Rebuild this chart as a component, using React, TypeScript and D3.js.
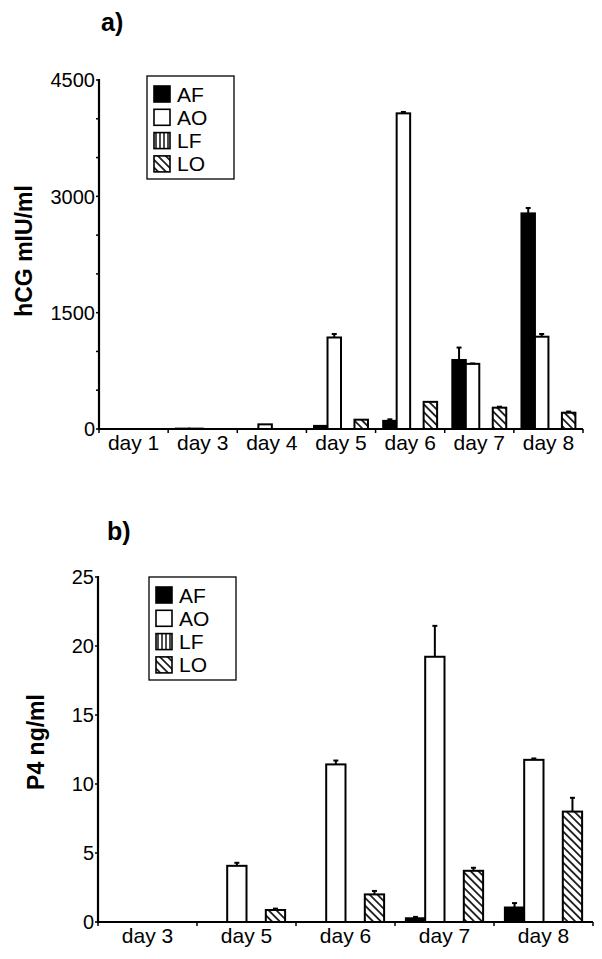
import React from 'react';
import * as d3 from 'd3';

const seriesNames = ['AF', 'AO', 'LF', 'LO'];

const hcgDays = ['day 1', 'day 3', 'day 4', 'day 5', 'day 6', 'day 7', 'day 8'];
const hcgAF = [0, 5, 0, 40, 105, 890, 2780];
const hcgAO = [0, 5, 60, 1180, 4070, 840, 1190];
const hcgLF = [0, 0, 0, 0, 0, 0, 0];
const hcgLO = [0, 0, 0, 120, 350, 275, 210];
const hcgAFErr = [0, 0, 0, 0, 20, 160, 70];
const hcgAOErr = [0, 0, 0, 45, 18, 5, 35];
const hcgLFErr = [0, 0, 0, 0, 0, 0, 0];
const hcgLOErr = [0, 0, 0, 0, 0, 12, 15];
const hcgTicks = [0, 1500, 3000, 4500];
const hcgMinor = [500, 1000, 2000, 2500, 3500, 4000];

const p4Days = ['day 3', 'day 5', 'day 6', 'day 7', 'day 8'];
const p4AF = [0, 0, 0, 0.27, 1.05];
const p4AO = [0, 4.07, 11.42, 19.22, 11.75];
const p4LF = [0, 0, 0, 0, 0];
const p4LO = [0, 0.87, 2.0, 3.71, 8.0];
const p4AFErr = [0, 0, 0, 0.1, 0.32];
const p4AOErr = [0, 0.22, 0.28, 2.24, 0.1];
const p4LFErr = [0, 0, 0, 0, 0];
const p4LOErr = [0, 0.1, 0.25, 0.22, 1.0];
const p4Ticks = [0, 5, 10, 15, 20, 25];
const p4Minor: number[] = [];

const FONT = '"Liberation Sans", Arial, Helvetica, sans-serif';

const fills: Record<string, string> = {
  AF: '#000',
  AO: '#fff',
  LF: 'url(#patLF)',
  LO: 'url(#patLO)',
};

type PanelProps = {
  days: string[];
  values: number[][];
  errors: number[][];
  ticks: number[];
  minor: number[];
  x0: number; x1: number; yTop: number; yBase: number;
  title: string; titleX: number; titleY: number;
  ylabel: string; ylabelX: number; ylabelY: number;
  legendX: number; legendY: number;
};

function Panel(p: PanelProps) {
  const maxT = p.ticks[p.ticks.length - 1];
  const y = d3.scaleLinear().domain([0, maxT]).range([p.yBase, p.yTop]);
  const x = d3.scaleBand<string>().domain(p.days).range([p.x0, p.x1]);
  const bw = x.bandwidth();
  const xs = d3.scaleBand<string>().domain(seriesNames).range([bw * 0.11, bw * 0.89]);
  const sw = xs.bandwidth();
  const boundaries = d3.range(p.days.length + 1).map((i) => p.x0 + i * bw);
  return (
    <g>
      <text x={p.titleX} y={p.titleY} fontFamily={FONT} fontWeight="bold" fontSize={25}>{p.title}</text>
      <text transform={`translate(${p.ylabelX},${p.ylabelY}) rotate(-90)`} textAnchor="middle"
        fontFamily={FONT} fontWeight="bold" fontSize={23}>{p.ylabel}</text>
      {/* bars */}
      {p.days.map((d, i) => (
        <g key={d}>
          {seriesNames.map((s, k) => {
            const v = p.values[k][i];
            const e = p.errors[k][i];
            const bx = (x(d) as number) + (xs(s) as number);
            const top = y(v);
            return (
              <g key={s}>
                <rect x={bx} y={top} width={sw} height={p.yBase - top} fill={fills[s]} stroke="#000" strokeWidth={2} />
                {e > 0 && (
                  <g stroke="#000" strokeWidth={2}>
                    <line x1={bx + sw / 2} x2={bx + sw / 2} y1={top} y2={y(v + e)} />
                    <line x1={bx + sw / 2 - 2.5} x2={bx + sw / 2 + 2.5} y1={y(v + e)} y2={y(v + e)} />
                  </g>
                )}
              </g>
            );
          })}
        </g>
      ))}
      {/* y axis */}
      <line x1={p.x0} x2={p.x0} y1={p.yTop - 1} y2={p.yBase + 1} stroke="#000" strokeWidth={2.2} />
      {p.ticks.map((t) => (
        <g key={t}>
          <line x1={p.x0 - 3} x2={p.x0} y1={y(t)} y2={y(t)} stroke="#000" strokeWidth={1.5} />
          <text x={p.x0 - 4} y={y(t)} dy="0.36em" textAnchor="end" fontFamily={FONT} fontSize={20}>{t}</text>
        </g>
      ))}
      {p.minor.map((t) => (
        <line key={t} x1={p.x0 - 3} x2={p.x0} y1={y(t)} y2={y(t)} stroke="#000" strokeWidth={1.5} />
      ))}
      {/* x axis */}
      <line x1={p.x0} x2={p.x1} y1={p.yBase} y2={p.yBase} stroke="#000" strokeWidth={2.2} />
      {boundaries.map((b, i) => (
        <line key={i} x1={b} x2={b} y1={p.yBase} y2={p.yBase + 4} stroke="#000" strokeWidth={1.5} />
      ))}
      {p.days.map((d) => (
        <text key={d} x={(x(d) as number) + bw / 2} y={p.yBase + 21} textAnchor="middle"
          fontFamily={FONT} fontSize={21}>{d}</text>
      ))}
      {/* legend */}
      <g transform={`translate(${p.legendX},${p.legendY})`}>
        <rect x={0} y={0} width={87} height={103} fill="#fff" stroke="#000" strokeWidth={1.3} />
        {seriesNames.map((s, k) => (
          <g key={s} transform={`translate(7,${10 + k * 23.3})`}>
            <rect x={0} y={0} width={16} height={16} fill={fills[s]} stroke="#000" strokeWidth={1.6} />
            <text x={23} y={8} dy="0.36em" fontFamily={FONT} fontSize={21}>{s}</text>
          </g>
        ))}
      </g>
    </g>
  );
}

export default function App() {
  return (
    <svg width={602} height={959} style={{ position: 'absolute', left: 0, top: 0, background: '#fff' }}>
      <defs>
        <pattern id="patLF" patternUnits="userSpaceOnUse" width={4} height={4}>
          <rect width={4} height={4} fill="#fff" />
          <line x1={2} x2={2} y1={0} y2={4} stroke="#000" strokeWidth={1.4} />
        </pattern>
        <pattern id="patLO" patternUnits="userSpaceOnUse" width={5.5} height={5.5} patternTransform="rotate(45)">
          <rect width={5.5} height={5.5} fill="#fff" />
          <line x1={0} x2={5.5} y1={2.75} y2={2.75} stroke="#000" strokeWidth={1.6} />
        </pattern>
      </defs>
      <rect width={602} height={959} fill="#fff" />
      <Panel
        days={hcgDays}
        values={[hcgAF, hcgAO, hcgLF, hcgLO]}
        errors={[hcgAFErr, hcgAOErr, hcgLFErr, hcgLOErr]}
        ticks={hcgTicks}
        minor={hcgMinor}
        x0={99} x1={583} yTop={80} yBase={429}
        title="a)" titleX={101} titleY={31}
        ylabel="hCG mIU/ml" ylabelX={32} ylabelY={251}
        legendX={147} legendY={76}
      />
      <Panel
        days={p4Days}
        values={[p4AF, p4AO, p4LF, p4LO]}
        errors={[p4AFErr, p4AOErr, p4LFErr, p4LOErr]}
        ticks={p4Ticks}
        minor={p4Minor}
        x0={98} x1={593} yTop={577} yBase={922}
        title="b)" titleX={107} titleY={540}
        ylabel="P4 ng/ml" ylabelX={43.5} ylabelY={742}
        legendX={149} legendY={577}
      />
    </svg>
  );
}
